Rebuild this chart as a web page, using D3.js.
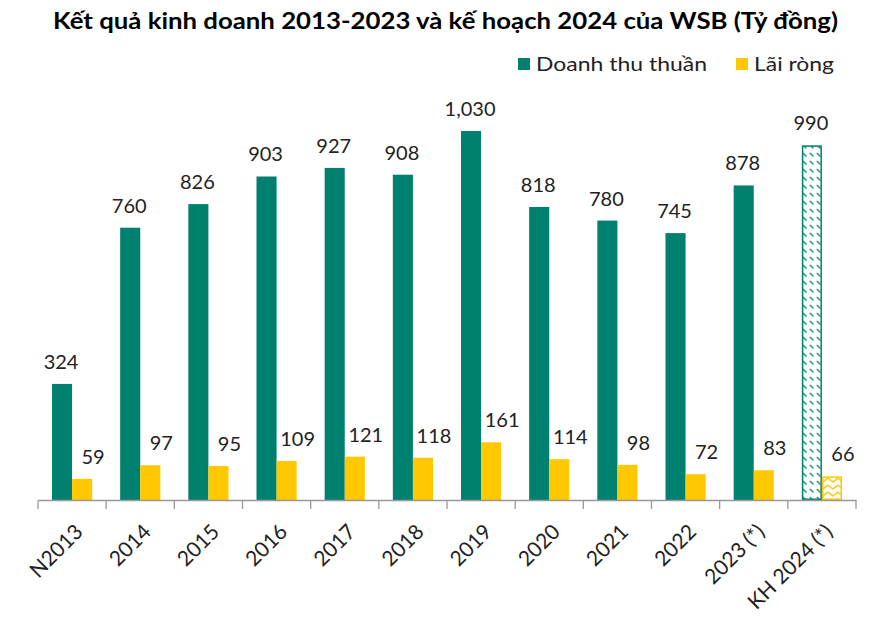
<!DOCTYPE html>
<meta charset="utf-8">
<style>
body { margin: 0; background: #fff; }
.title { font-family: Lato, "Open Sans", sans-serif; font-weight: bold; font-size: 22px; fill: #000; }
.legend text { font-family: Lato, "Open Sans", sans-serif; font-size: 20px; fill: #222; }
.label { font-family: Lato, "Open Sans", sans-serif; font-size: 20px; fill: #222; }
.x-axis text { font-family: Lato, "Open Sans", sans-serif; font-size: 21px; fill: #222; }
.x-axis path, .x-axis line { stroke: #999; stroke-width: 1.3; }
</style>
<body>
<script src="https://cdn.jsdelivr.net/npm/d3@7"></script>
<script>
var categories = ["N2013", "2014", "2015", "2016", "2017", "2018", "2019", "2020", "2021", "2022", "2023 (*)", "KH 2024 (*)"];
var revenue = [324, 760, 826, 903, 927, 908, 1030, 818, 780, 745, 878, 990];
var profit = [59, 97, 95, 109, 121, 118, 161, 114, 98, 72, 83, 66];
var seriesNames = ["Doanh thu thuần", "Lãi ròng"];
var planIndex = 11; // last column is the plan, drawn hatched

var teal = "#00806E", yellow = "#FFC800";

var width = 891, height = 622;
var x0 = 38, x1 = 856, baseY = 500;

var svg = d3.select("body").append("svg")
  .attr("width", width)
  .attr("height", height);

// patterns for the plan bars
var defs = svg.append("defs");
var pTeal = defs.append("pattern")
  .attr("id", "hatch-teal")
  .attr("patternUnits", "userSpaceOnUse")
  .attr("width", 7).attr("height", 8);
pTeal.append("path")
  .attr("d", "M1,1 L4.5,4.5")
  .attr("stroke", teal).attr("stroke-width", 1.3);
var pYellow = defs.append("pattern")
  .attr("id", "zigzag-yellow")
  .attr("patternUnits", "userSpaceOnUse")
  .attr("width", 10).attr("height", 7);
pYellow.append("path")
  .attr("d", "M0,2 L5,6 L10,2")
  .attr("fill", "none")
  .attr("stroke", yellow).attr("stroke-width", 1.4);

svg.append("text")
  .attr("class", "title")
  .attr("x", 53)
  .attr("y", 29)
  .attr("textLength", 785)
  .attr("lengthAdjust", "spacingAndGlyphs")
  .text("Kết quả kinh doanh 2013-2023 và kế hoạch 2024 của WSB (Tỷ đồng)");

var x = d3.scaleBand()
  .domain(categories)
  .range([x0, x1])
  .paddingInner(0)
  .paddingOuter(0);

var inner = d3.scaleBand()
  .domain([0, 1])
  .range([14, x.bandwidth() - 14]);

var y = d3.scaleLinear()
  .domain([0, 1030])
  .range([baseY, 131]);

var data = categories.map(function(c, i) {
  return { cat: c, i: i, values: [revenue[i], profit[i]] };
});

var groups = svg.append("g").selectAll("g")
  .data(data)
  .enter().append("g")
  .attr("transform", function(d) { return "translate(" + x(d.cat) + ",0)"; });

groups.selectAll("rect")
  .data(function(d) { return d.values.map(function(v, k) { return { v: v, k: k, plan: d.i === planIndex }; }); })
  .enter().append("rect")
  .attr("x", function(d) { return inner(d.k) + (d.plan ? 0.75 : 0); })
  .attr("y", function(d) { return y(d.v) + (d.plan ? 0.75 : 0); })
  .attr("width", function(d) { return inner.bandwidth() - (d.plan ? 1.5 : 0); })
  .attr("height", function(d) { return baseY - y(d.v) - (d.plan ? 1.5 : 0); })
  .attr("fill", function(d) {
    if (d.plan) return d.k === 0 ? "url(#hatch-teal)" : "url(#zigzag-yellow)";
    return d.k === 0 ? teal : yellow;
  })
  .attr("stroke", function(d) { return d.plan ? (d.k === 0 ? teal : yellow) : "none"; })
  .attr("stroke-width", 1.5);

groups.selectAll("text")
  .data(function(d) { return d.values.map(function(v, k) { return { v: v, k: k }; }); })
  .enter().append("text")
  .attr("class", "label")
  .attr("x", function(d) { return inner(d.k) + inner.bandwidth() / 2 + (d.k === 1 ? 11 : -1); })
  .attr("y", function(d) { return y(d.v) - 15; })
  .attr("text-anchor", "middle")
  .text(function(d) { return d3.format(",")(d.v); });

var xAxis = svg.append("g")
  .attr("class", "x-axis")
  .attr("transform", "translate(0," + baseY + ")")
  .call(d3.axisBottom(x).tickSize(0).tickSizeOuter(0));

// category boundary ticks (Excel-style, between groups)
xAxis.selectAll(".bound")
  .data(d3.range(categories.length + 1))
  .enter().append("line")
  .attr("class", "bound")
  .attr("x1", function(i) { return x0 + i * x.step(); })
  .attr("x2", function(i) { return x0 + i * x.step(); })
  .attr("y1", 0).attr("y2", 9);

xAxis.selectAll(".tick text")
  .attr("text-anchor", "end")
  .attr("dx", 0)
  .attr("dy", 0)
  .attr("transform", "translate(10,31) rotate(-45)");

// legend
var legend = svg.append("g").attr("class", "legend");
var legendItems = [
  { name: seriesNames[0], color: teal, x: 518, w: 171 },
  { name: seriesNames[1], color: yellow, x: 736, w: 80 }
];
legendItems.forEach(function(it) {
  legend.append("rect")
    .attr("x", it.x).attr("y", 58)
    .attr("width", 12).attr("height", 12)
    .attr("fill", it.color);
  legend.append("text")
    .attr("x", it.x + 18).attr("y", 71)
    .attr("textLength", it.w)
    .attr("lengthAdjust", "spacingAndGlyphs")
    .text(it.name);
});
</script>
</body>
